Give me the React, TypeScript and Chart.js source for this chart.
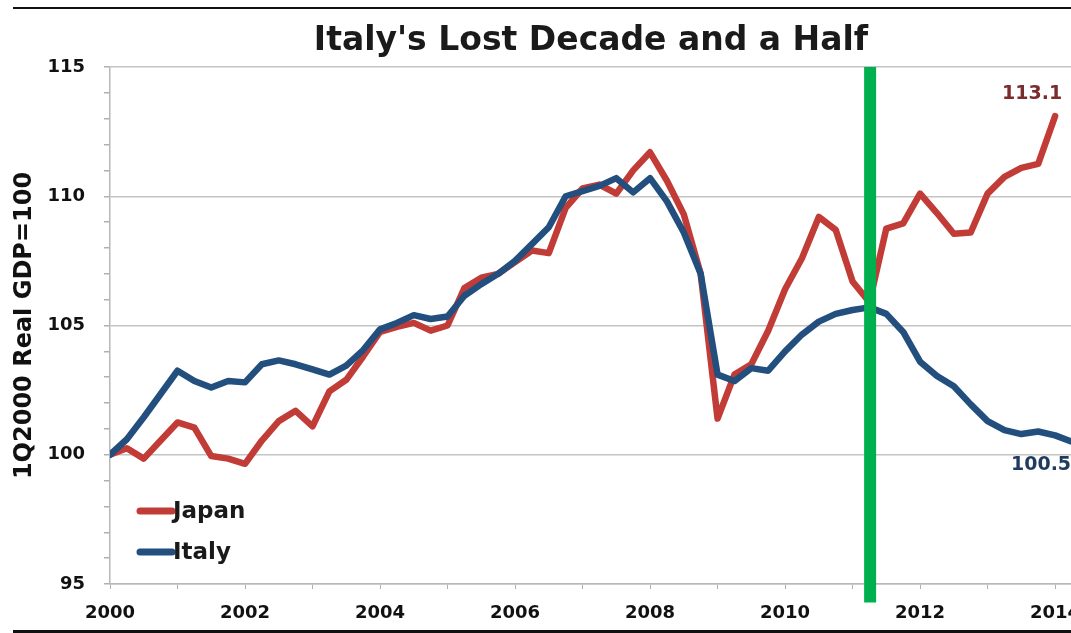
import React, { useEffect, useRef } from "react";
import { Chart, registerables } from "chart.js";

Chart.register(...registerables);

// ---- data (quarterly, 1Q2000 = 100) ----
const startYear = 2000;
const japanValues = [
  100.0, 100.25, 99.85, 100.55, 101.25, 101.05, 99.95, 99.85, 99.65, 100.55,
  101.3, 101.7, 101.1, 102.45, 102.9, 103.8, 104.75, 104.95, 105.1, 104.8,
  105.0, 106.45, 106.85, 107.0, 107.45, 107.9, 107.8, 109.55, 110.3, 110.45,
  110.1, 111.0, 111.7, 110.6, 109.3, 107.0, 101.4, 103.1, 103.5, 104.8,
  106.4, 107.6, 109.2, 108.7, 106.7, 105.9, 108.75, 108.95, 110.1, 109.35,
  108.55, 108.6, 110.1, 110.75, 111.1, 111.25, 113.1,
];
const italyValues = [
  100.0, 100.6, 101.45, 102.35, 103.25, 102.85, 102.6, 102.85, 102.8, 103.5,
  103.65, 103.5, 103.3, 103.1, 103.45, 104.05, 104.85, 105.1, 105.4, 105.25,
  105.35, 106.15, 106.6, 107.0, 107.5, 108.15, 108.8, 110.0, 110.2, 110.4,
  110.7, 110.15, 110.7, 109.8, 108.6, 107.0, 103.1, 102.85, 103.35, 103.25,
  104.0, 104.65, 105.15, 105.45, 105.6, 105.7, 105.45, 104.75, 103.6, 103.05,
  102.65, 101.95, 101.3, 100.95, 100.8, 100.9, 100.75, 100.5,
];
const seriesNames = ["Japan", "Italy"];
const endLabels = ["113.1", "100.5"];
const markerYear = 2011.26;
const markerRange = [115, 94.28];
const yTickMin = 95;
const yTickMax = 115;
const xMin = 2000;
const xMax = 2015.88;
const titleText = "Italy's Lost Decade and a Half";
const yTitle = "1Q2000 Real GDP=100";

const JAPAN_COLOR = "#c23c37";
const ITALY_COLOR = "#234f7e";
const GREEN = "#00b04f";
const FONT = "'DejaVu Sans', sans-serif";

const toPoints = (vals: number[]) =>
  vals.map((v, i) => ({ x: startYear + i * 0.25, y: v }));

const overlayPlugin = {
  id: "overlay",
  afterDraw(chart: any) {
    const ctx = chart.ctx;
    ctx.save();
    // end-of-series labels
    const jMeta = chart.getDatasetMeta(1);
    const iMeta = chart.getDatasetMeta(2);
    const jLast = jMeta.data[jMeta.data.length - 1];
    const iLast = iMeta.data[iMeta.data.length - 1];
    ctx.font = `bold 19px ${FONT}`;
    ctx.textBaseline = "middle";
    ctx.fillStyle = "#7b2c2c";
    ctx.textAlign = "center";
    ctx.fillText(endLabels[0], jLast.x - 23, jLast.y - 22);
    ctx.fillStyle = "#1f3b5e";
    ctx.textAlign = "left";
    ctx.fillText(endLabels[1], iLast.x - 61, iLast.y + 23);

    // legend inside plot
    const items = [
      { name: seriesNames[0], color: JAPAN_COLOR, y: 511 },
      { name: seriesNames[1], color: ITALY_COLOR, y: 552 },
    ];
    items.forEach((it) => {
      ctx.strokeStyle = it.color;
      ctx.lineWidth = 7;
      ctx.lineCap = "round";
      ctx.beginPath();
      ctx.moveTo(140, it.y);
      ctx.lineTo(172, it.y);
      ctx.stroke();
      ctx.fillStyle = "#1a1a1a";
      ctx.font = `bold 23px ${FONT}`;
      ctx.textAlign = "left";
      ctx.textBaseline = "middle";
      ctx.fillText(it.name, 173, it.y + 1);
    });
    ctx.restore();
  },
};

export default function App() {
  const ref = useRef<HTMLCanvasElement>(null);

  useEffect(() => {
    if (!ref.current) return;
    const chart = new Chart(ref.current, {
      type: "line",
      data: {
        datasets: [
          {
            label: "marker",
            data: [
              { x: markerYear, y: markerRange[0] },
              { x: markerYear, y: markerRange[1] },
            ],
            borderColor: GREEN,
            borderWidth: 12,
            borderCapStyle: "butt",
            pointRadius: 0,
            clip: false as any,
            order: -1,
          },
          {
            label: seriesNames[0],
            data: toPoints(japanValues),
            borderColor: JAPAN_COLOR,
            borderWidth: 6.5,
            borderJoinStyle: "round",
            borderCapStyle: "round",
            pointRadius: 0,
            tension: 0,
            order: 2,
          },
          {
            label: seriesNames[1],
            data: toPoints(italyValues),
            borderColor: ITALY_COLOR,
            borderWidth: 6.5,
            borderJoinStyle: "round",
            borderCapStyle: "round",
            pointRadius: 0,
            tension: 0,
            order: 1,
          },
        ],
      },
      options: {
        responsive: false,
        animation: false,
        devicePixelRatio: 1,
        parsing: false as any,
        layout: { padding: { left: 0, right: 8, top: 0, bottom: 0 } },
        plugins: {
          legend: { display: false },
          tooltip: { enabled: false },
          title: {
            display: true,
            text: titleText,
            color: "#1a1a1a",
            font: { family: FONT, size: 33, weight: "bold" },
            padding: { top: 22, bottom: 5.4 },
          },
        },
        scales: {
          x: {
            type: "linear",
            min: xMin,
            max: xMax,
            afterFit: (s: any) => {
              s.height = 49;
            },
            grid: {
              color: "rgba(0,0,0,0)",
              drawTicks: true,
              tickLength: 5,
              tickColor: "#b0b0b0",
            },
            border: { display: true, color: "#b8b8b8", width: 1.5 },
            ticks: {
              stepSize: 1,
              includeBounds: false,
              autoSkip: false,
              maxRotation: 0,
              padding: 14,
              color: "#111",
              font: { family: FONT, size: 18, weight: "bold" },
              callback: (v: any) => {
                const n = Number(v);
                return Number.isInteger(n) && n % 2 === 0 ? String(n) : "";
              },
            },
          },
          y: {
            min: yTickMin,
            max: yTickMax,
            afterFit: (s: any) => {
              s.width = 110;
            },
            title: {
              display: true,
              text: yTitle,
              color: "#111",
              font: { family: FONT, size: 24, weight: "bold" },
              padding: { top: 10, bottom: 0 },
            },
            grid: {
              color: (c: any) =>
                c.tick && c.tick.value % 5 === 0 ? "#c4c4c4" : "rgba(0,0,0,0)",
              lineWidth: 1.5,
              drawTicks: true,
              tickLength: 6,
              tickColor: "#b0b0b0",
            },
            border: { display: true, color: "#b8b8b8", width: 1.5 },
            ticks: {
              stepSize: 1,
              autoSkip: false,
              padding: 19,
              color: "#111",
              font: { family: FONT, size: 18, weight: "bold" },
              callback: (v: any) => (Number(v) % 5 === 0 ? String(v) : ""),
            },
          },
        },
      },
      plugins: [overlayPlugin],
    } as any);
    return () => chart.destroy();
  }, []);

  return (
    <div
      style={{
        position: "absolute",
        left: 0,
        top: 0,
        width: 1071,
        height: 633,
        overflow: "hidden",
        background: "#fff",
      }}
    >
      <canvas
        ref={ref}
        width={1190}
        height={633}
        style={{ position: "absolute", left: 0, top: 0, width: 1190, height: 633 }}
      />
      <div style={{ position: "absolute", left: 0, top: 0, width: 13, height: 633, background: "#fff" }} />
      <div style={{ position: "absolute", left: 13, top: 7, width: 1058, height: 2, background: "#111" }} />
      <div style={{ position: "absolute", left: 13, top: 630, width: 1058, height: 3, background: "#111" }} />
    </div>
  );
}
